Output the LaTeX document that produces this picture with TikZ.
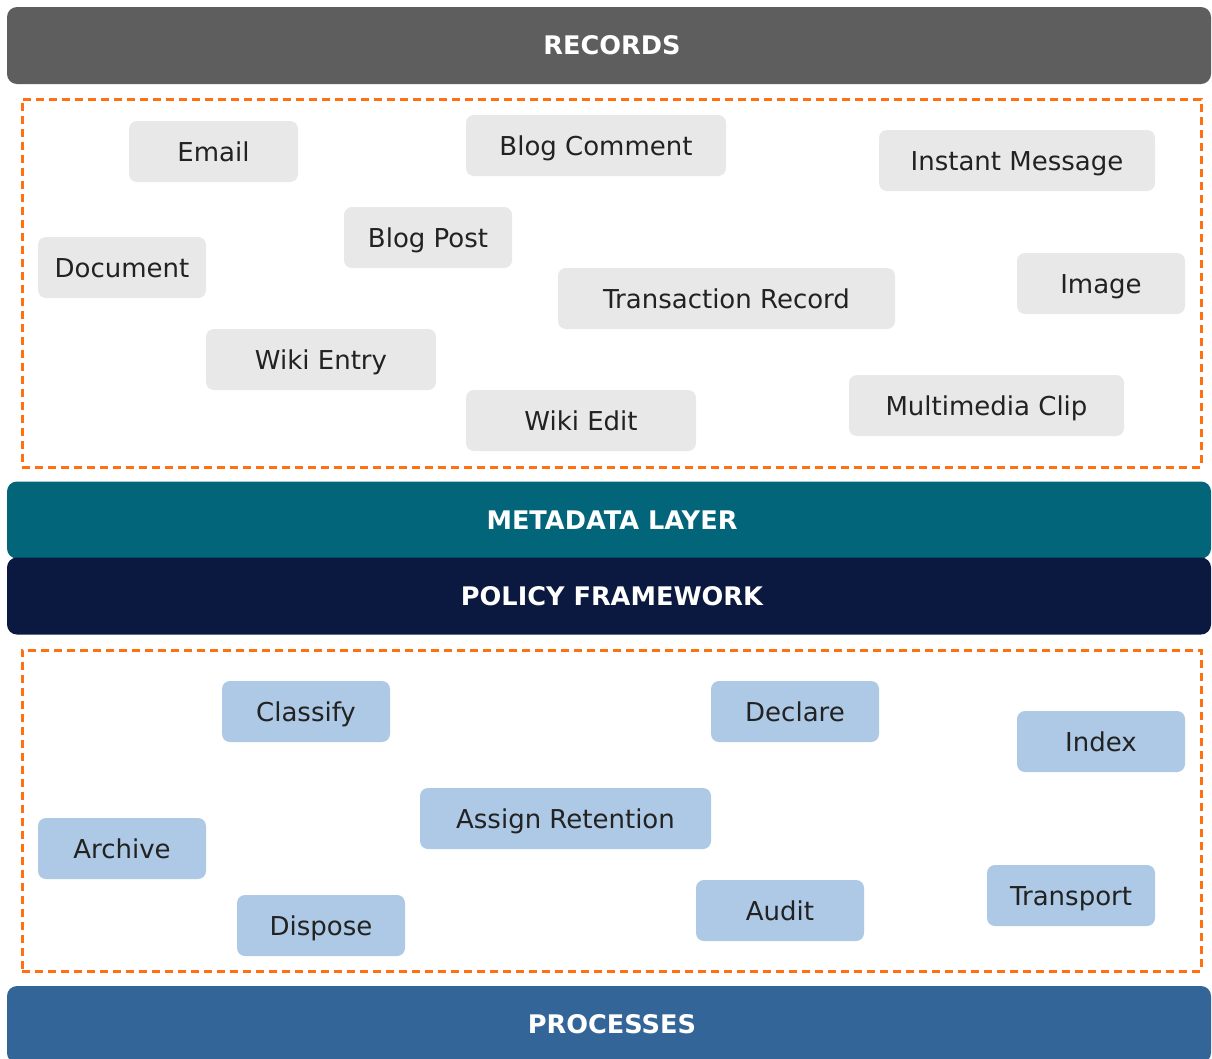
\documentclass[tikz,border=0pt]{standalone}
\usepackage{fontspec}
\setmainfont{DejaVu Sans}
\definecolor{barGray}{HTML}{5E5E5E}
\definecolor{barTeal}{HTML}{03657A}
\definecolor{barNavy}{HTML}{0B1940}
\definecolor{barBlue}{HTML}{346598}
\definecolor{boxGray}{HTML}{E8E8E8}
\definecolor{boxBlue}{HTML}{ADC9E5}
\definecolor{frameOrange}{HTML}{FF7010}
\definecolor{txtDark}{HTML}{222222}
\tikzset{
  bar/.style={rectangle, rounded corners=10pt, fill=#1, minimum width=1204pt, minimum height=77pt,
    inner sep=0pt, text=white, font=\fontsize{25.6pt}{30pt}\selectfont\bfseries, text height=18.5pt, text depth=0pt},
  item/.style={rectangle, rounded corners=8pt, fill=#1, minimum height=61pt, inner sep=0pt,
    text=txtDark, font=\fontsize{26pt}{31pt}\selectfont, text height=19pt, text depth=0pt},
  frame/.style={rectangle, draw=frameOrange, line width=3pt, dash pattern=on 8pt off 5pt, inner sep=0pt},
}
\begin{document}
\begin{tikzpicture}[x=1pt,y=-1pt]
\clip (0,0) rectangle (1212,1058);
\useasboundingbox (0,0) rectangle (1212,1058);
\fill[white] (0,0) rectangle (1212,1058);
% bars
\node[bar=barGray] (records) at (609,45.5) {\hspace*{6pt}RECORDS};
\node[bar=barTeal] (meta) at (609,520) {\hspace*{6pt}METADATA LAYER};
\node[bar=barNavy] (policy) at (609,596) {\hspace*{6pt}POLICY FRAMEWORK};
\node[bar=barBlue] (processes) at (609,1024.5) {\hspace*{6pt}PROCESSES};
% frames
\node[frame, minimum width=1179pt, minimum height=368pt] (recframe) at (611.5,283) {};
\node[frame, minimum width=1179pt, minimum height=321pt] (procframe) at (611.5,810.5) {};
% record items
\node[item=boxGray, minimum width=169pt] (email) at (213.5,151.5) {Email};
\node[item=boxGray, minimum width=260pt] (blogc) at (596,145.5) {Blog Comment};
\node[item=boxGray, minimum width=276pt] (im) at (1017,160.5) {Instant Message};
\node[item=boxGray, minimum width=168pt] (doc) at (122,267.5) {Document};
\node[item=boxGray, minimum width=168pt] (blogp) at (428,237.5) {Blog Post};
\node[item=boxGray, minimum width=337pt] (trans) at (726.5,298.5) {Transaction Record};
\node[item=boxGray, minimum width=168pt] (image) at (1101,283.5) {Image};
\node[item=boxGray, minimum width=230pt] (wikie) at (321,359.5) {Wiki Entry};
\node[item=boxGray, minimum width=230pt] (wikied) at (581,420.5) {Wiki Edit};
\node[item=boxGray, minimum width=275pt] (multi) at (986.5,405.5) {Multimedia Clip};
% process items
\node[item=boxBlue, minimum width=168pt] (classify) at (306,711.5) {Classify};
\node[item=boxBlue, minimum width=168pt] (declare) at (795,711.5) {Declare};
\node[item=boxBlue, minimum width=168pt] (index) at (1101,741.5) {Index};
\node[item=boxBlue, minimum width=291pt] (assign) at (565.5,818.5) {Assign Retention};
\node[item=boxBlue, minimum width=168pt] (archive) at (122,848.5) {Archive};
\node[item=boxBlue, minimum width=168pt] (dispose) at (321,925.5) {Dispose};
\node[item=boxBlue, minimum width=168pt] (audit) at (780,910.5) {Audit};
\node[item=boxBlue, minimum width=168pt] (transport) at (1071,895.5) {Transport};
\end{tikzpicture}
\end{document}
